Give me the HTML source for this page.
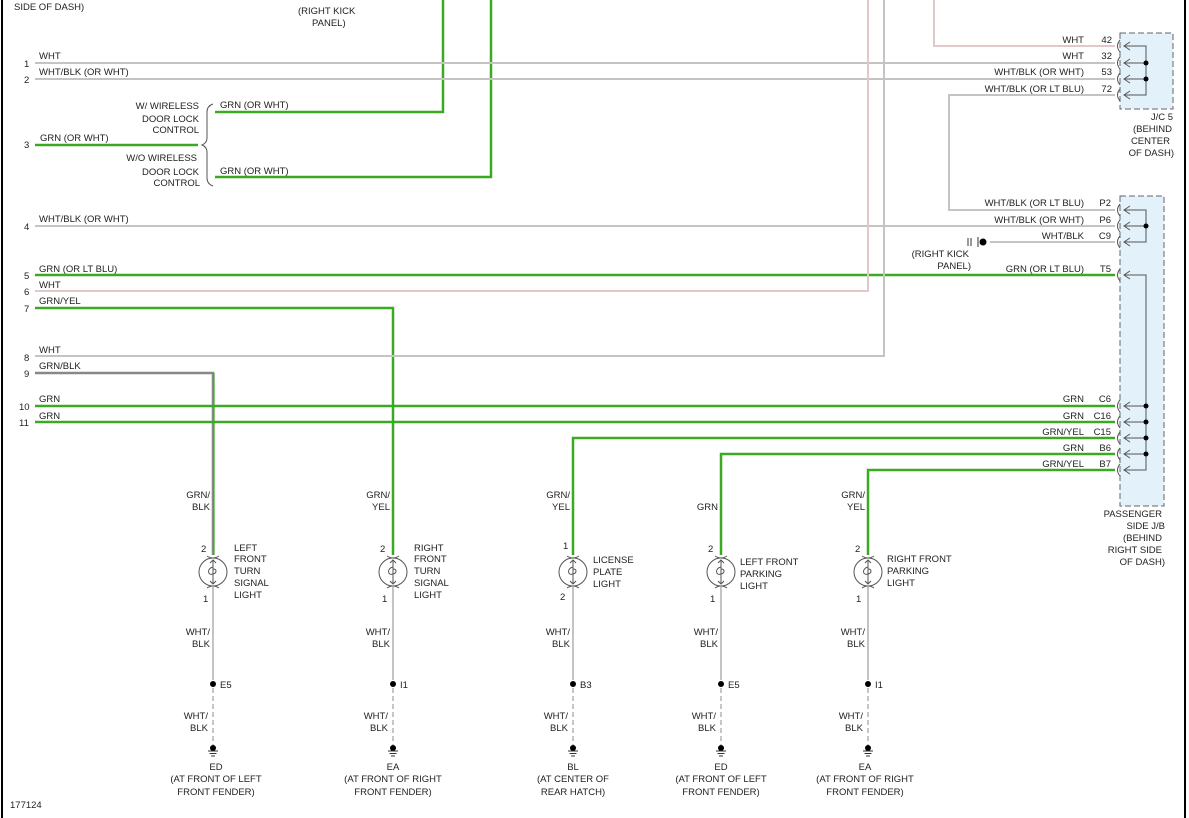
<!DOCTYPE html>
<html><head><meta charset="utf-8"><style>
html,body{margin:0;padding:0;background:#fff}
svg{display:block}
text{font-family:"Liberation Sans",sans-serif;font-size:9.5px;fill:#222}
.w{stroke:#c4c4c4;stroke-width:2;fill:none}
.p{stroke:#e2c8c8;stroke-width:2;fill:none}
.g{stroke:#3aaa22;stroke-width:2.5;fill:none}
.k{stroke:#555;stroke-width:1;fill:none}
.d{stroke:#c8c8c8;stroke-width:2;stroke-dasharray:5 3;fill:none}
</style></head><body>
<svg width="1189" height="818" viewBox="0 0 1189 818" xmlns="http://www.w3.org/2000/svg">
<defs>
<g id="lamp">
<circle cx="0" cy="0" r="14" fill="#fff" stroke="#555" stroke-width="1"/>
<path d="M0,-12 V12 M-3,-9 L0,-12 L3,-9 M-3,9 L0,12 L3,9" stroke="#555" fill="none" stroke-width="1"/>
<path d="M0,-5 C-6,-4 -6,4 0,2 C4,1 4,-3 0,-3" stroke="#555" fill="none" stroke-width="1"/>
<path d="M-6,-16 Q0,-12 6,-16 M-6,16 Q0,12 6,16" stroke="#555" fill="none" stroke-width="1"/>
</g>
<g id="gnd">
<circle cx="0" cy="0" r="3" fill="#000"/>
<path d="M-5,3 H5 M-3.5,5.5 H3.5 M-2,8 H2" stroke="#333" stroke-width="1"/>
</g>
</defs>
<line x1="2" y1="0" x2="2" y2="818" stroke="#000" stroke-width="2"/>
<line x1="1185" y1="0" x2="1185" y2="818" stroke="#000" stroke-width="2"/>

<!-- junction boxes -->
<rect x="1120" y="33" width="53" height="76" fill="#e3f1fb" stroke="#666" stroke-dasharray="6 3"/>
<rect x="1120" y="196" width="44" height="310" fill="#e3f1fb" stroke="#666" stroke-dasharray="6 3"/>

<!-- wires top -->
<path class="g" d="M443,0 V112 H215"/>
<path class="g" d="M491,0 V177 H215"/>
<path class="g" d="M35,145 H198"/>
<path class="w" d="M35,63 H1115"/>
<path class="w" d="M35,79 H1115"/>
<path class="p" d="M934,0 V46 H1115"/>
<path class="w" d="M1115,95 H949 V210 H1115"/>
<path class="w" d="M35,226 H1115"/>
<path class="w" d="M990,242 H1115"/>
<path class="g" d="M35,275 H1115"/>
<path class="p" d="M35,291 H868 V0"/>
<path class="g" d="M35,308 H393 V555"/>
<path class="w" d="M35,356 H884 V0"/>
<path d="M35,373 H213 V555" stroke="#888" stroke-width="2.5" fill="none"/>
<path d="M214,373 V555" stroke="#3aaa22" stroke-width="1.2"/>
<path class="g" d="M35,406 H1115"/>
<path class="g" d="M35,422 H1115"/>
<path class="g" d="M1115,438 H573 V555"/>
<path class="g" d="M1115,454 H721 V555"/>
<path class="g" d="M1115,470 H868 V555"/>

<!-- brace -->
<path class="k" d="M213,104 Q207,106 207,112 V138 Q207,143 202,145 Q207,147 207,152 V178 Q207,184 213,186"/>

<!-- connector terminals J/C5 -->
<g class="k">
<path d="M1120,40 q-5,6 0,12 M1120,57 q-5,6 0,12 M1120,73 q-5,6 0,12 M1120,89 q-5,6 0,12"/>
<path d="M1130,42 l-6,4 l6,4 M1124,46 H1146 V95 H1124 M1130,59 l-6,4 l6,4 M1124,63 H1146 M1130,75 l-6,4 l6,4 M1124,79 H1146 M1130,91 l-6,4 l6,4"/>
<path d="M1120,204 q-5,6 0,12 M1120,220 q-5,6 0,12 M1120,236 q-5,6 0,12 M1120,269 q-5,6 0,12"/>
<path d="M1130,206 l-6,4 l6,4 M1124,210 H1146 V242 H1124 M1130,222 l-6,4 l6,4 M1124,226 H1146 M1130,238 l-6,4 l6,4"/>
<path d="M1130,271 l-6,4 l6,4 M1124,275 H1146 V470 H1124"/>
<path d="M1120,400 q-5,6 0,12 M1120,416 q-5,6 0,12 M1120,432 q-5,6 0,12 M1120,448 q-5,6 0,12 M1120,464 q-5,6 0,12"/>
<path d="M1130,402 l-6,4 l6,4 M1124,406 H1146 M1130,418 l-6,4 l6,4 M1124,422 H1146 M1130,434 l-6,4 l6,4 M1124,438 H1146 M1130,450 l-6,4 l6,4 M1124,454 H1146 M1130,466 l-6,4 l6,4"/>
</g>
<g fill="#000">
<circle cx="1146" cy="63" r="2.5"/><circle cx="1146" cy="79" r="2.5"/>
<circle cx="1146" cy="226" r="2.5"/>
<circle cx="1146" cy="406" r="2.5"/><circle cx="1146" cy="422" r="2.5"/><circle cx="1146" cy="438" r="2.5"/><circle cx="1146" cy="454" r="2.5"/>
<circle cx="983" cy="242" r="3.5"/>
</g>
<path d="M968,238 v8 M971,238 v8 M978,237 v10" stroke="#333" stroke-width="1"/>

<!-- left labels -->
<text x="14" y="10">SIDE OF DASH)</text>
<text x="298" y="14">(RIGHT KICK</text><text x="312" y="26">PANEL)</text>
<text x="24" y="67">1</text><text x="39" y="59">WHT</text>
<text x="24" y="83">2</text><text x="39" y="75">WHT/BLK (OR WHT)</text>
<text x="24" y="148">3</text><text x="40" y="141">GRN (OR WHT)</text>
<text x="199" y="109" text-anchor="end">W/ WIRELESS</text>
<text x="199" y="122" text-anchor="end">DOOR LOCK</text>
<text x="199" y="133" text-anchor="end">CONTROL</text>
<text x="197" y="161" text-anchor="end">W/O WIRELESS</text>
<text x="199" y="175" text-anchor="end">DOOR LOCK</text>
<text x="200" y="186" text-anchor="end">CONTROL</text>
<text x="220" y="108">GRN (OR WHT)</text>
<text x="220" y="174">GRN (OR WHT)</text>
<text x="24" y="230">4</text><text x="39" y="222">WHT/BLK (OR WHT)</text>
<text x="24" y="279">5</text><text x="39" y="272">GRN (OR LT BLU)</text>
<text x="24" y="295">6</text><text x="39" y="288">WHT</text>
<text x="24" y="312">7</text><text x="39" y="304">GRN/YEL</text>
<text x="24" y="361">8</text><text x="39" y="353">WHT</text>
<text x="24" y="377">9</text><text x="39" y="369">GRN/BLK</text>
<text x="19" y="410">10</text><text x="39" y="402">GRN</text>
<text x="19" y="426">11</text><text x="39" y="419">GRN</text>

<!-- right labels -->
<g text-anchor="end">
<text x="1084" y="43">WHT</text><text x="1112" y="43">42</text>
<text x="1084" y="59">WHT</text><text x="1112" y="59">32</text>
<text x="1084" y="75">WHT/BLK (OR WHT)</text><text x="1112" y="75">53</text>
<text x="1084" y="92">WHT/BLK (OR LT BLU)</text><text x="1112" y="92">72</text>
<text x="1084" y="206">WHT/BLK (OR LT BLU)</text><text x="1111" y="206">P2</text>
<text x="1084" y="223">WHT/BLK (OR WHT)</text><text x="1111" y="223">P6</text>
<text x="1084" y="239">WHT/BLK</text><text x="1111" y="239">C9</text>
<text x="1084" y="272">GRN (OR LT BLU)</text><text x="1111" y="272">T5</text>
<text x="1084" y="402">GRN</text><text x="1111" y="402">C6</text>
<text x="1084" y="419">GRN</text><text x="1111" y="419">C16</text>
<text x="1084" y="435">GRN/YEL</text><text x="1111" y="435">C15</text>
<text x="1084" y="451">GRN</text><text x="1111" y="451">B6</text>
<text x="1084" y="467">GRN/YEL</text><text x="1111" y="467">B7</text>
<text x="1173" y="120">J/C 5</text><text x="1172" y="132">(BEHIND</text><text x="1170" y="144">CENTER</text><text x="1174" y="156">OF DASH)</text>
<text x="1162" y="517">PASSENGER</text><text x="1165" y="529">SIDE J/B</text><text x="1162" y="541">(BEHIND</text><text x="1162" y="553">RIGHT SIDE</text><text x="1165" y="565">OF DASH)</text>
<text x="969" y="257">(RIGHT KICK</text><text x="971" y="269">PANEL)</text>
</g>

<!-- bottom lamps -->
<g>
<path class="w" d="M213,587 V680 M393,587 V680 M573,587 V680 M721,587 V680 M868,587 V680"/>
<path class="d" d="M213,688 V745 M393,688 V745 M573,688 V745 M721,688 V745 M868,688 V745"/>
<use href="#lamp" x="213" y="572"/><use href="#lamp" x="393" y="572"/><use href="#lamp" x="573" y="572"/><use href="#lamp" x="721" y="572"/><use href="#lamp" x="868" y="572"/>
<g fill="#000"><circle cx="213" cy="684" r="3"/><circle cx="393" cy="684" r="3"/><circle cx="573" cy="684" r="3"/><circle cx="721" cy="684" r="3"/><circle cx="868" cy="684" r="3"/></g>
<use href="#gnd" x="213" y="748"/><use href="#gnd" x="393" y="748"/><use href="#gnd" x="573" y="748"/><use href="#gnd" x="721" y="748"/><use href="#gnd" x="868" y="748"/>
</g>
<g text-anchor="end">
<text x="210" y="498">GRN/</text><text x="210" y="510">BLK</text>
<text x="390" y="498">GRN/</text><text x="390" y="510">YEL</text>
<text x="570" y="498">GRN/</text><text x="570" y="510">YEL</text>
<text x="718" y="510">GRN</text>
<text x="865" y="498">GRN/</text><text x="865" y="510">YEL</text>
<text x="210" y="635">WHT/</text><text x="210" y="647">BLK</text>
<text x="390" y="635">WHT/</text><text x="390" y="647">BLK</text>
<text x="570" y="635">WHT/</text><text x="570" y="647">BLK</text>
<text x="718" y="635">WHT/</text><text x="718" y="647">BLK</text>
<text x="865" y="635">WHT/</text><text x="865" y="647">BLK</text>
<text x="208" y="719">WHT/</text><text x="208" y="731">BLK</text>
<text x="388" y="719">WHT/</text><text x="388" y="731">BLK</text>
<text x="568" y="719">WHT/</text><text x="568" y="731">BLK</text>
<text x="716" y="719">WHT/</text><text x="716" y="731">BLK</text>
<text x="863" y="719">WHT/</text><text x="863" y="731">BLK</text>
</g>
<text x="201" y="552">2</text><text x="203" y="602">1</text>
<text x="380" y="552">2</text><text x="382" y="602" fill="#c00">1</text>
<text x="563" y="549">1</text><text x="560" y="600">2</text>
<text x="708" y="552">2</text><text x="710" y="602">1</text>
<text x="855" y="552">2</text><text x="856" y="602" fill="#a60">1</text>
<text x="234" y="551">LEFT</text><text x="234" y="562">FRONT</text><text x="234" y="574">TURN</text><text x="234" y="586">SIGNAL</text><text x="234" y="598">LIGHT</text>
<text x="414" y="551">RIGHT</text><text x="414" y="562">FRONT</text><text x="414" y="574">TURN</text><text x="414" y="586">SIGNAL</text><text x="414" y="598">LIGHT</text>
<text x="593" y="563">LICENSE</text><text x="593" y="575">PLATE</text><text x="593" y="587">LIGHT</text>
<text x="740" y="565">LEFT FRONT</text><text x="740" y="577">PARKING</text><text x="740" y="589">LIGHT</text>
<text x="887" y="562">RIGHT FRONT</text><text x="887" y="574">PARKING</text><text x="887" y="586">LIGHT</text>
<text x="220" y="688">E5</text><text x="400" y="688">I1</text><text x="580" y="688">B3</text><text x="728" y="688">E5</text><text x="875" y="688">I1</text>
<g text-anchor="middle">
<text x="216" y="770">ED</text><text x="216" y="782">(AT FRONT OF LEFT</text><text x="216" y="795">FRONT FENDER)</text>
<text x="393" y="770">EA</text><text x="393" y="782">(AT FRONT OF RIGHT</text><text x="393" y="795">FRONT FENDER)</text>
<text x="573" y="770">BL</text><text x="573" y="782">(AT CENTER OF</text><text x="573" y="795">REAR HATCH)</text>
<text x="721" y="770">ED</text><text x="721" y="782">(AT FRONT OF LEFT</text><text x="721" y="795">FRONT FENDER)</text>
<text x="865" y="770">EA</text><text x="865" y="782">(AT FRONT OF RIGHT</text><text x="865" y="795">FRONT FENDER)</text>
</g>
<text x="10" y="808">177124</text>
</svg>
</body></html>
